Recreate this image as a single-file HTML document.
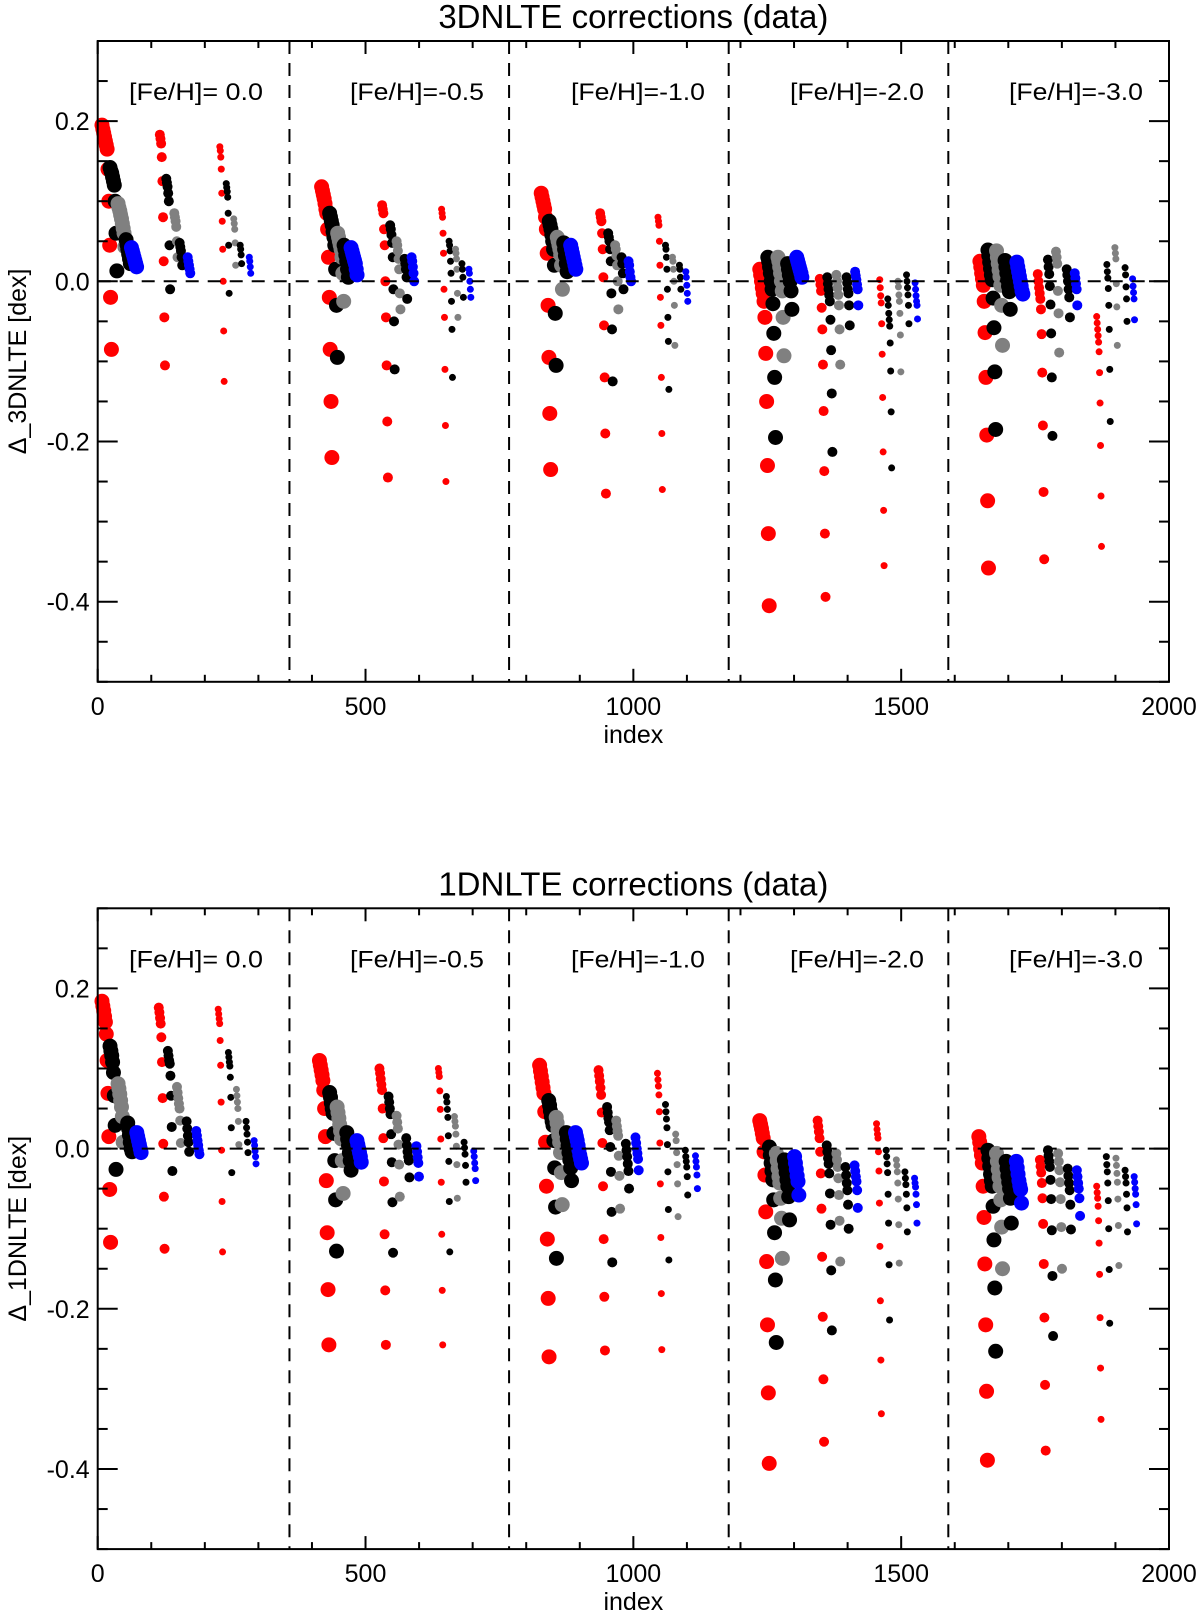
<!DOCTYPE html>
<html><head><meta charset="utf-8"><title>NLTE corrections</title>
<style>
html,body{margin:0;padding:0;background:#fff;}
svg{display:block;font-family:"Liberation Sans",Arial,sans-serif;}
</style></head>
<body>
<svg id="chart" width="1200" height="1614" viewBox="0 0 1200 1614" xmlns="http://www.w3.org/2000/svg"></svg>
<script>
// ---------- data ----------
const xTicks = [0, 500, 1000, 1500, 2000];
const yTicks = [-0.4, -0.2, 0.0, 0.2];
const yTickLabels = ['-0.4', '-0.2', '0.0', '0.2'];
const blockDividers = [358, 768, 1178, 1588];
const fehLabels = ['[Fe/H]= 0.0', '[Fe/H]=-0.5', '[Fe/H]=-1.0', '[Fe/H]=-2.0', '[Fe/H]=-3.0'];
const groupColors = ['#ff0000', '#000000', '#808080', '#000000', '#0000ff'];
const groupColorNames = ['red', 'black', 'gray', 'black', 'blue'];
const columnRadius = [7.5, 5, 3.5];
const columnStep = [1.6, 1.2, 0.9];

// top panel: start index per [block][column][group]
const topStart = [
 [[8,23,38,53,63],[116,128,143,153,168],[228,240,254,266,283]],
 [[418,433,448,460,473],[531,546,558,573,586],[642,656,668,680,693]],
 [[828,843,858,870,883],[938,953,966,978,991],[1046,1060,1073,1086,1098]],
 [[1236,1251,1270,1288,1305],[1348,1362,1379,1398,1414],[1460,1475,1494,1510,1526]],
 [[1647,1662,1678,1694,1716],[1755,1774,1789,1809,1824],[1865,1884,1899,1918,1932]]
];
const topValues = [
 [ // [Fe/H]=0.0
  [[0.195,0.19,0.185,0.18,0.175,0.17,0.165,0.14,0.10,0.045,-0.02,-0.085],
   [0.142,0.138,0.135,0.13,0.125,0.12,0.1,0.06,0.013],
   [0.097,0.092,0.088,0.083,0.078,0.072,0.066,0.06,0.043],
   [0.052,0.046,0.04,0.034,0.028,0.022],
   [0.042,0.038,0.034,0.03,0.026,0.022,0.018]],
  [[0.183,0.178,0.172,0.155,0.125,0.08,0.025,-0.045,-0.105],
   [0.128,0.123,0.118,0.11,0.1,0.045,-0.01],
   [0.085,0.08,0.075,0.068,0.05,0.03],
   [0.048,0.043,0.038,0.03,0.02],
   [0.03,0.025,0.02,0.015,0.01]],
  [[0.168,0.163,0.155,0.14,0.11,0.075,0.04,0.0,-0.062,-0.125],
   [0.122,0.117,0.112,0.105,0.085,0.045,-0.015],
   [0.078,0.072,0.065,0.048,0.02],
   [0.045,0.04,0.033,0.022],
   [0.03,0.025,0.018,0.01]]
 ],
 [ // -0.5
  [[0.118,0.113,0.108,0.103,0.097,0.09,0.085,0.065,0.03,-0.02,-0.085,-0.15,-0.22],
   [0.085,0.08,0.075,0.07,0.062,0.055,0.045,0.015,-0.03,-0.095],
   [0.06,0.055,0.05,0.045,0.04,0.03,0.01,-0.025],
   [0.045,0.04,0.033,0.025,0.015,0.005],
   [0.042,0.038,0.034,0.03,0.026,0.022,0.015,0.008]],
  [[0.095,0.09,0.085,0.065,0.045,0.0,-0.045,-0.105,-0.175,-0.245],
   [0.07,0.065,0.058,0.048,0.03,-0.01,-0.05,-0.11],
   [0.05,0.045,0.038,0.028,0.015,-0.015,-0.035],
   [0.028,0.022,0.015,0.005,-0.022],
   [0.03,0.025,0.018,0.01,0.0]],
  [[0.09,0.085,0.08,0.06,0.035,-0.01,-0.045,-0.11,-0.18,-0.25],
   [0.05,0.045,0.038,0.025,0.01,-0.025,-0.06,-0.12],
   [0.04,0.035,0.028,0.015,-0.015,-0.045],
   [0.022,0.015,0.005,-0.02],
   [0.015,0.01,0.0,-0.01,-0.02]]
 ],
 [ // -1.0
  [[0.11,0.105,0.1,0.095,0.09,0.08,0.065,0.035,-0.03,-0.095,-0.165,-0.235],
   [0.075,0.07,0.065,0.058,0.05,0.04,0.02,-0.04,-0.105],
   [0.055,0.05,0.045,0.04,0.033,0.02,-0.01],
   [0.048,0.04,0.032,0.022,0.012],
   [0.045,0.04,0.035,0.03,0.025,0.02,0.015]],
  [[0.085,0.08,0.075,0.06,0.04,0.005,-0.055,-0.12,-0.19,-0.265],
   [0.06,0.055,0.05,0.04,0.025,-0.015,-0.06,-0.125],
   [0.045,0.04,0.032,0.02,0.0,-0.035],
   [0.03,0.022,0.01,-0.01],
   [0.025,0.02,0.012,0.005,0.0]],
  [[0.08,0.075,0.07,0.05,0.02,-0.02,-0.055,-0.12,-0.19,-0.26],
   [0.045,0.04,0.03,0.015,-0.01,-0.045,-0.075,-0.135],
   [0.03,0.025,0.015,0.0,-0.03,-0.08],
   [0.02,0.015,0.005,-0.01],
   [0.012,0.005,-0.005,-0.015,-0.025]]
 ],
 [ // -2.0
  [[0.015,0.008,0.0,-0.008,-0.015,-0.025,-0.045,-0.09,-0.15,-0.23,-0.315,-0.405],
   [0.03,0.025,0.018,0.01,0.0,-0.01,-0.028,-0.065,-0.12,-0.195],
   [0.03,0.025,0.018,0.01,0.0,-0.012,-0.045,-0.093],
   [0.022,0.015,0.008,0.0,-0.012,-0.035],
   [0.03,0.026,0.022,0.018,0.014,0.01,0.005]],
  [[0.003,-0.004,-0.012,-0.033,-0.06,-0.104,-0.162,-0.237,-0.315,-0.394],
   [0.005,-0.003,-0.01,-0.017,-0.025,-0.048,-0.086,-0.14,-0.213],
   [0.008,0.0,-0.008,-0.017,-0.03,-0.06,-0.104],
   [0.005,-0.002,-0.01,-0.015,-0.03,-0.055],
   [0.012,0.007,0.002,-0.004,-0.01,-0.03]],
  [[0.002,-0.008,-0.018,-0.027,-0.053,-0.091,-0.145,-0.213,-0.286,-0.355],
   [-0.022,-0.03,-0.04,-0.048,-0.056,-0.077,-0.112,-0.163,-0.233],
   [0.0,-0.007,-0.017,-0.025,-0.04,-0.067,-0.113],
   [0.008,0.0,-0.008,-0.017,-0.03,-0.053],
   [-0.002,-0.01,-0.018,-0.025,-0.03,-0.047]]
 ],
 [ // -3.0
  [[0.025,0.018,0.01,0.003,-0.005,-0.025,-0.064,-0.12,-0.192,-0.274,-0.358],
   [0.039,0.032,0.024,0.016,0.008,0.002,-0.021,-0.058,-0.113,-0.185],
   [0.038,0.03,0.022,0.014,0.006,-0.005,-0.03,-0.08],
   [0.026,0.018,0.01,0.002,-0.006,-0.013,-0.035],
   [0.024,0.018,0.012,0.006,0.0,-0.006,-0.012,-0.016]],
  [[0.009,0.0,-0.008,-0.015,-0.022,-0.035,-0.066,-0.114,-0.18,-0.263,-0.347],
   [0.027,0.018,0.009,-0.006,-0.029,-0.065,-0.12,-0.193],
   [0.037,0.03,0.022,-0.012,-0.04,-0.089],
   [0.015,0.008,0.0,-0.01,-0.02,-0.045],
   [0.01,0.004,-0.003,-0.01,-0.03]],
  [[-0.044,-0.052,-0.06,-0.068,-0.076,-0.088,-0.114,-0.152,-0.205,-0.268,-0.331],
   [0.021,0.012,0.004,-0.009,-0.03,-0.06,-0.11,-0.175],
   [0.042,0.035,0.028,-0.003,-0.032,-0.08],
   [0.017,0.008,-0.007,-0.022,-0.05],
   [0.003,-0.006,-0.014,-0.022,-0.048]]
 ]
];

// bottom panel
const botStart = [
 [[8,23,38,56,73],[114,131,148,166,184],[225,244,259,277,292]],
 [[414,433,447,465,484],[526,543,558,576,595],[636,651,666,684,702]],
 [[825,842,856,875,892],[935,951,968,986,1004],[1045,1060,1079,1097,1116]],
 [[1236,1254,1267,1282,1301],[1344,1361,1379,1396,1413],[1454,1472,1491,1507,1525]],
 [[1645,1662,1678,1696,1715],[1759,1774,1793,1811,1828],[1865,1883,1901,1918,1935]]
];
const botValues = [
 [
  [[0.184,0.178,0.172,0.165,0.158,0.143,0.11,0.069,0.015,-0.051,-0.117],
   [0.128,0.122,0.116,0.108,0.095,0.066,0.029,-0.026],
   [0.081,0.075,0.068,0.06,0.052,0.04,0.008],
   [0.032,0.025,0.017,0.008,0.0,-0.004],
   [0.02,0.015,0.01,0.005,0.0,-0.005]],
  [[0.176,0.17,0.163,0.156,0.139,0.108,0.063,0.006,-0.06,-0.125],
   [0.122,0.116,0.11,0.106,0.091,0.066,0.027,-0.028],
   [0.077,0.07,0.063,0.056,0.05,0.035,0.007],
   [0.034,0.025,0.016,0.008,-0.004],
   [0.022,0.016,0.01,0.004,-0.002,-0.007]],
  [[0.174,0.168,0.162,0.156,0.135,0.104,0.058,-0.002,-0.066,-0.129],
   [0.12,0.114,0.108,0.103,0.089,0.064,0.026,-0.03],
   [0.074,0.066,0.058,0.05,0.034,0.005],
   [0.034,0.026,0.018,0.008,-0.005],
   [0.01,0.004,-0.003,-0.01,-0.019]]
 ],
 [
  [[0.11,0.104,0.098,0.092,0.085,0.073,0.05,0.015,-0.04,-0.105,-0.176,-0.245],
   [0.07,0.064,0.057,0.05,0.044,0.019,-0.015,-0.064,-0.128],
   [0.052,0.045,0.038,0.03,0.022,0.012,-0.015,-0.056],
   [0.02,0.012,0.004,-0.005,-0.015,-0.027],
   [0.01,0.005,0.0,-0.005,-0.01,-0.017]],
  [[0.1,0.094,0.087,0.08,0.073,0.05,0.013,-0.041,-0.107,-0.177,-0.245],
   [0.065,0.058,0.05,0.043,0.018,-0.017,-0.067,-0.13],
   [0.041,0.033,0.025,0.005,-0.02,-0.06],
   [0.013,0.004,-0.004,-0.01,-0.015,-0.036],
   [0.003,-0.004,-0.011,-0.018,-0.035]],
  [[0.1,0.095,0.09,0.072,0.049,0.012,-0.042,-0.107,-0.177,-0.245],
   [0.065,0.058,0.049,0.039,0.016,-0.016,-0.066,-0.129],
   [0.04,0.034,0.028,0.018,0.003,-0.02,-0.062],
   [0.008,0.001,-0.007,-0.021,-0.042],
   [-0.003,-0.01,-0.018,-0.025,-0.04]]
 ],
 [
  [[0.104,0.097,0.09,0.083,0.076,0.069,0.046,0.008,-0.047,-0.113,-0.187,-0.26],
   [0.06,0.054,0.047,0.04,0.034,0.029,0.01,-0.024,-0.073,-0.137],
   [0.039,0.032,0.024,0.016,0.008,-0.005,-0.03,-0.07],
   [0.02,0.012,0.004,-0.005,-0.014,-0.024,-0.04],
   [0.02,0.015,0.01,0.004,-0.002,-0.008,-0.013,-0.018]],
  [[0.098,0.091,0.084,0.076,0.067,0.045,0.007,-0.047,-0.113,-0.185,-0.252],
   [0.052,0.045,0.038,0.033,0.023,0.002,-0.029,-0.079,-0.142],
   [0.035,0.028,0.022,0.016,-0.009,-0.034,-0.075],
   [0.006,-0.002,-0.01,-0.019,-0.028,-0.05],
   [0.014,0.007,0.0,-0.006,-0.013,-0.027]],
  [[0.094,0.086,0.078,0.067,0.046,0.007,-0.044,-0.111,-0.181,-0.251],
   [0.055,0.046,0.037,0.026,0.005,-0.029,-0.076,-0.139],
   [0.018,0.01,-0.005,-0.02,-0.044,-0.085],
   [-0.002,-0.01,-0.016,-0.023,-0.035,-0.058],
   [-0.009,-0.016,-0.023,-0.033,-0.05]]
 ],
 [
  [[0.035,0.03,0.025,0.019,0.013,-0.004,-0.033,-0.079,-0.141,-0.22,-0.305,-0.393],
   [0.002,-0.008,-0.018,-0.028,-0.039,-0.064,-0.105,-0.164,-0.242],
   [-0.006,-0.015,-0.025,-0.035,-0.043,-0.062,-0.087,-0.137],
   [-0.014,-0.022,-0.03,-0.039,-0.047,-0.06,-0.089],
   [-0.01,-0.018,-0.026,-0.034,-0.041,-0.058]],
  [[0.035,0.028,0.021,0.013,-0.004,-0.031,-0.075,-0.135,-0.21,-0.288,-0.366],
   [0.004,-0.004,-0.012,-0.019,-0.031,-0.056,-0.095,-0.152,-0.227],
   [-0.006,-0.014,-0.023,-0.037,-0.058,-0.09,-0.141],
   [-0.023,-0.033,-0.043,-0.052,-0.07,-0.1],
   [-0.021,-0.028,-0.035,-0.041,-0.052,-0.074]],
  [[0.031,0.024,0.018,0.013,-0.004,-0.028,-0.068,-0.122,-0.19,-0.264,-0.331],
   [-0.002,-0.01,-0.019,-0.03,-0.057,-0.093,-0.145,-0.214],
   [-0.014,-0.021,-0.029,-0.043,-0.063,-0.095,-0.143],
   [-0.029,-0.037,-0.045,-0.057,-0.074,-0.104],
   [-0.037,-0.043,-0.048,-0.057,-0.07,-0.093]]
 ],
 [
  [[0.015,0.008,0.0,-0.008,-0.018,-0.047,-0.086,-0.144,-0.22,-0.303,-0.389],
   [-0.002,-0.012,-0.022,-0.032,-0.04,-0.047,-0.072,-0.114,-0.174,-0.253],
   [-0.006,-0.016,-0.026,-0.036,-0.047,-0.064,-0.098,-0.15],
   [-0.016,-0.025,-0.034,-0.042,-0.05,-0.062,-0.093],
   [-0.016,-0.024,-0.032,-0.04,-0.046,-0.051,-0.068]],
  [[-0.014,-0.022,-0.03,-0.043,-0.062,-0.094,-0.144,-0.211,-0.295,-0.377],
   [-0.002,-0.009,-0.016,-0.023,-0.039,-0.063,-0.102,-0.159,-0.234],
   [-0.006,-0.016,-0.027,-0.042,-0.063,-0.098,-0.15],
   [-0.025,-0.034,-0.043,-0.052,-0.07,-0.101],
   [-0.027,-0.035,-0.043,-0.05,-0.062,-0.084]],
  [[-0.047,-0.055,-0.062,-0.072,-0.09,-0.118,-0.157,-0.211,-0.274,-0.338],
   [-0.01,-0.02,-0.029,-0.043,-0.065,-0.1,-0.151,-0.218],
   [-0.012,-0.021,-0.031,-0.042,-0.063,-0.096,-0.146],
   [-0.027,-0.035,-0.043,-0.057,-0.074,-0.104],
   [-0.035,-0.042,-0.05,-0.057,-0.07,-0.094]]
 ]
];

// ---------- drawing ----------
const NS = 'http://www.w3.org/2000/svg';
const svg = document.getElementById('chart');
function mk(tag, attrs, parent) {
  const e = document.createElementNS(NS, tag);
  for (const k in attrs) e.setAttribute(k, attrs[k]);
  (parent || svg).appendChild(e);
  return e;
}

function drawPanel(cfg) {
  const g = mk('g', {});
  
  
  const L = 97.7, R = 1169, T = cfg.zero - 0.3 * 801, B = cfg.zero + 0.5 * 801;
  const xs = v => L + (v - 0) / 2000 * (R - L);
  const ys = v => cfg.zero - v * 801;

  const t = mk('text', {x: (L + R) / 2, y: T - 13, 'text-anchor': 'middle', 'font-size': 33, fill: '#000'}, g);
  t.textContent = cfg.title;
  
  

  const pts = mk('g', {}, g);
  
  
  for (let b = 0; b < cfg.values.length; b++) {
    for (let c = 0; c < 3; c++) {
      for (let k = 0; k < 5; k++) {
        const vals = cfg.values[b][c][k];
        const s0 = cfg.start[b][c][k];
        for (let i = 0; i < vals.length; i++) {
          const p = mk('circle', {cx: xs(s0 + i * columnStep[c]), cy: ys(vals[i]), r: columnRadius[c], fill: groupColors[k]}, pts);
          
          
        }
      }
    }
  }

  const z = mk('line', {x1: L, x2: R, y1: ys(0), y2: ys(0), stroke: '#000', 'stroke-width': 2, 'stroke-dasharray': '13 9'}, g);
  
  
  for (const d of blockDividers) {
    const l = mk('line', {x1: xs(d), x2: xs(d), y1: T, y2: B, stroke: '#000', 'stroke-width': 2, 'stroke-dasharray': '13 9'}, g);
    
    
  }

  const f = mk('rect', {x: L, y: T, width: R - L, height: B - T, fill: 'none', stroke: '#000', 'stroke-width': 2}, g);
  
  

  for (let v = 0; v <= 2000; v += 100) {
    const major = v % 500 === 0;
    const len = major ? 13 : 7;
    mk('line', {x1: xs(v), x2: xs(v), y1: B, y2: B - len, stroke: '#000', 'stroke-width': 2}, g);
    mk('line', {x1: xs(v), x2: xs(v), y1: T, y2: T + len, stroke: '#000', 'stroke-width': 2}, g);
  }
  for (const v of xTicks) {
    const tl = mk('text', {x: xs(v), y: B + 33, 'text-anchor': 'middle', 'font-size': 25, fill: '#000'}, g);
    tl.textContent = String(v);
    
    
  }
  for (let i = -10; i <= 6; i++) {
    const v = i * 0.05;
    const major = i % 4 === 0;
    const len = major ? 20 : 10;
    mk('line', {x1: L, x2: L + len, y1: ys(v), y2: ys(v), stroke: '#000', 'stroke-width': 2}, g);
    mk('line', {x1: R, x2: R - len, y1: ys(v), y2: ys(v), stroke: '#000', 'stroke-width': 2}, g);
  }
  yTicks.forEach((v, i) => {
    const tl = mk('text', {x: L - 8, y: ys(v) + 9, 'text-anchor': 'end', 'font-size': 25, fill: '#000'}, g);
    tl.textContent = yTickLabels[i];
    
    
  });

  const xt = mk('text', {x: (L + R) / 2, y: B + 61, 'text-anchor': 'middle', 'font-size': 25, fill: '#000'}, g);
  xt.textContent = 'index';
  
  
  const cy = (T + B) / 2;
  const yt = mk('text', {x: 0, y: 0, 'text-anchor': 'middle', 'font-size': 25, fill: '#000', transform: 'translate(26,' + cy + ') rotate(-90)'}, g);
  yt.textContent = cfg.ytitle;
  
  

  const labelX = [196, 417, 638, 857, 1076];
  fehLabels.forEach((s, i) => {
    const tl = mk('text', {x: labelX[i], y: T + 59, 'text-anchor': 'middle', 'font-size': 24, fill: '#000', textLength: 134, lengthAdjust: 'spacingAndGlyphs'}, g);
    tl.textContent = s;
    
    
  });
}

drawPanel({name: 'panel-3dnlte', title: '3DNLTE corrections (data)', ytitle: 'Δ_3DNLTE [dex]', zero: 281.3, start: topStart, values: topValues});
drawPanel({name: 'panel-1dnlte', title: '1DNLTE corrections (data)', ytitle: 'Δ_1DNLTE [dex]', zero: 1148.6, start: botStart, values: botValues});
</script>
</body></html>
